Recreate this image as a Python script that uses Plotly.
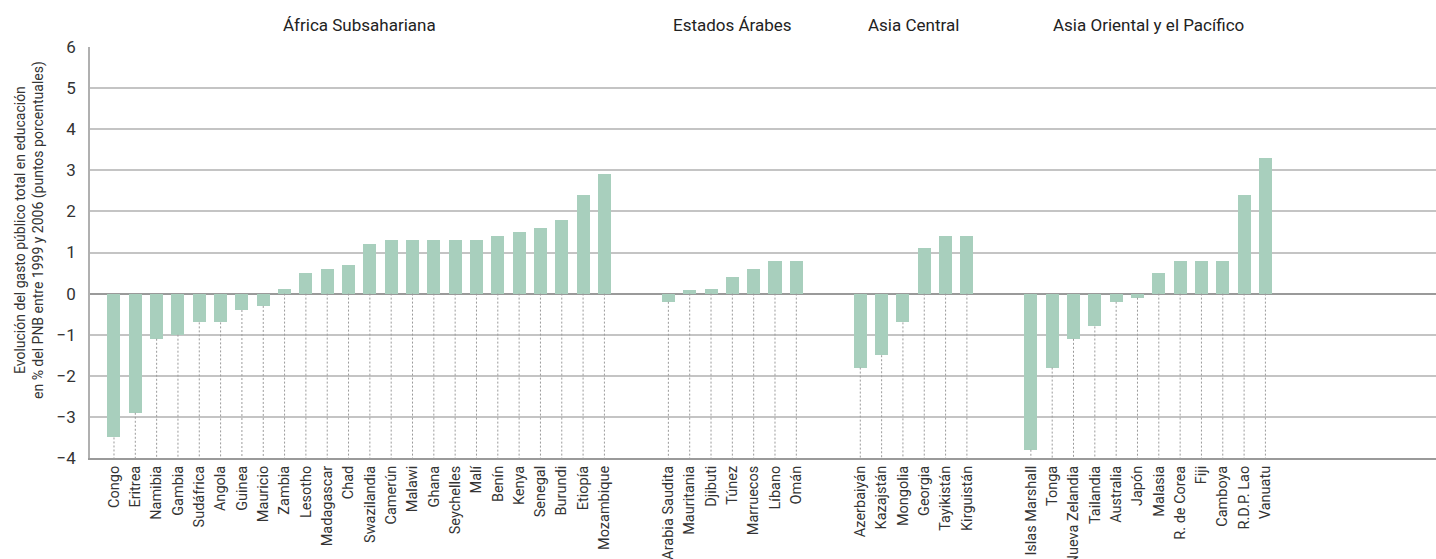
import plotly.graph_objects as go

# Change in total public expenditure on education as % of GNP, 1999-2006
africa = ["Congo", "Eritrea", "Namibia", "Gambia", "Sudáfrica", "Angola", "Guinea",
          "Mauricio", "Zambia", "Lesotho", "Madagascar", "Chad", "Swazilandia",
          "Camerún", "Malawi", "Ghana", "Seychelles", "Malí", "Benín", "Kenya",
          "Senegal", "Burundi", "Etiopía", "Mozambique"]
africa_vals = [-3.5, -2.9, -1.1, -1.0, -0.7, -0.7, -0.4, -0.3, 0.1, 0.5, 0.6, 0.7,
               1.2, 1.3, 1.3, 1.3, 1.3, 1.3, 1.4, 1.5, 1.6, 1.8, 2.4, 2.9]

arab = ["Arabia Saudita", "Mauritania", "Djibuti", "Túnez", "Marruecos", "Líbano", "Omán"]
arab_vals = [-0.2, 0.08, 0.1, 0.4, 0.6, 0.8, 0.8]

central = ["Azerbaiyán", "Kazajstán", "Mongolia", "Georgia", "Tayikistán", "Kirguistán"]
central_vals = [-1.8, -1.5, -0.7, 1.1, 1.4, 1.4]

east = ["Islas Marshall", "Tonga", "Nueva Zelandia", "Tailandia", "Australia", "Japón",
        "Malasia", "R. de Corea", "Fiji", "Camboya", "R.D.P. Lao", "Vanuatu"]
east_vals = [-3.8, -1.8, -1.1, -0.8, -0.2, -0.1, 0.5, 0.8, 0.8, 0.8, 2.4, 3.3]

groups = [
    ("África Subsahariana", africa, africa_vals),
    ("Estados Árabes", arab, arab_vals),
    ("Asia Central", central, central_vals),
    ("Asia Oriental y el Pacífico", east, east_vals),
]

GAP = 2          # empty slots between regions
Y_MIN, Y_MAX = -4, 6
FONT = "Roboto, Arial, sans-serif"
BAR_COLOR = "#a8cfbd"

xs, ys, labels, centers = [], [], [], []
pos = 0
for name, countries, vals in groups:
    start = pos
    for c, v in zip(countries, vals):
        xs.append(pos)
        ys.append(v)
        labels.append(c)
        pos += 1
    centers.append((name, (start + pos - 1) / 2))
    pos += GAP

# dotted leader lines from the bar foot (or zero) down to the axis floor
lx, ly = [], []
for x, v in zip(xs, ys):
    lx += [x, x, None]
    ly += [min(v, 0), Y_MIN, None]

fig = go.Figure()
fig.add_trace(go.Scatter(x=lx, y=ly, mode="lines", hoverinfo="skip",
                         line=dict(color="#9a9a9a", width=1, dash="2px,2px"),
                         showlegend=False))
fig.add_trace(go.Bar(x=xs, y=ys, width=0.61, marker=dict(color=BAR_COLOR, line=dict(width=0)),
                     showlegend=False))

for name, cx in centers:
    fig.add_annotation(x=cx, xref="x", y=1.053, yref="paper", text=name, showarrow=False,
                       xanchor="center", yanchor="middle",
                       font=dict(family=FONT, size=17, color="#222222"))

fig.add_annotation(
    x=-0.0445, xref="paper", y=0.555, yref="paper",
    text="Evolución del gasto público total en educación<br>en % del PNB entre 1999 y 2006 (puntos porcentuales)",
    showarrow=False, textangle=-90, xanchor="center", yanchor="middle",
    font=dict(family=FONT, size=14, color="#333333"))

fig.update_layout(
    width=1436, height=559,
    margin=dict(l=90, r=0, t=47, b=101, autoexpand=False),
    paper_bgcolor="white", plot_bgcolor="white",
    font=dict(family=FONT, color="#333333"),
    bargap=0,
)
fig.update_xaxes(
    range=[-1.125, 62.0], tickmode="array", tickvals=xs, ticktext=labels,
    tickangle=-90, tickfont=dict(family=FONT, size=14.5, color="#333333"),
    showgrid=False, zeroline=False, showline=True, linecolor="#9a9a9a", linewidth=2,
    ticks="", fixedrange=True, automargin=False,
)
fig.update_yaxes(
    range=[Y_MIN, Y_MAX], dtick=1, tick0=0,
    tickfont=dict(family=FONT, size=17, color="#333333"),
    showgrid=True, gridcolor="#c4c4c4", gridwidth=1.5,
    zeroline=True, zerolinecolor="#9a9a9a", zerolinewidth=2,
    showline=True, linecolor="#b0b0b0", linewidth=1.5, ticks="", ticklabelstandoff=9,
    automargin=False,
)
fig.write_html("out.html")
